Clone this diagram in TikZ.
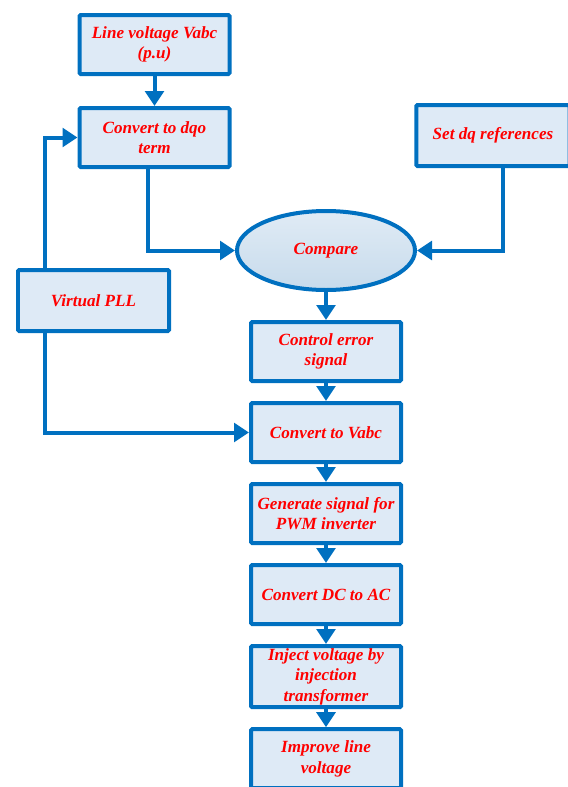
\documentclass[tikz,border=0pt]{standalone}
\usepackage{fontspec}
\setmainfont{Liberation Serif}
\usetikzlibrary{positioning,arrows.meta,shapes.geometric}
\definecolor{flowblue}{RGB}{0,112,192}
\definecolor{boxfill}{RGB}{222,234,246}
\definecolor{cmptop}{RGB}{224,235,245}
\definecolor{cmpbot}{RGB}{199,219,236}
\definecolor{flowred}{RGB}{255,0,0}
\newcommand\flowfont{\bfseries\itshape\fontsize{14.6}{17.5}\selectfont}
\tikzstyle{stepbox}=[rectangle, rounded corners=1pt, draw=flowblue, fill=boxfill, line width=0.12cm,
minimum width=4.5cm, minimum height=1.77cm, inner sep=2pt, align=center, text=flowred, font=\flowfont]
\tikzstyle{cmpbox}=[ellipse, draw=flowblue, top color=cmptop, bottom color=cmpbot, line width=0.12cm,
minimum width=5.34cm, minimum height=2.37cm, inner sep=0pt, align=center, text=flowred, font=\flowfont]
\tikzstyle{line}=[-, line width=0.12cm, draw=flowblue]
\tikzstyle{arrow}=[line, -{Triangle[length=0.45cm, width=0.56cm]}]

\begin{document}
\begin{tikzpicture}[node distance=0.54cm]
    \useasboundingbox (0,0) rectangle (17.04,-23.61);

    \node (lv) [stepbox] at (4.635,-1.335) {Line voltage Vabc\\(p.u)};
    \node (dqo) [stepbox, below=0.9cm of lv] {Convert to dqo\\term};
    \node (dqref) [stepbox, minimum width=4.6cm, minimum height=1.83cm] at (14.79,-4.065) {Set dq references};
    \node (cmp) [cmpbox] at (9.78,-7.515) {Compare};
    \node (pll) [stepbox, minimum width=4.53cm, minimum height=1.83cm] at (2.805,-9.015) {Virtual PLL};

% main chain
    \node (err) [stepbox, below=0.84cm of cmp] {Control error\\signal};
    \node (vabc) [stepbox, below=of err] {Convert to Vabc};
    \node (gen) [stepbox, below=of vabc] {Generate signal for\\PWM inverter};
    \node (dcac) [stepbox, below=of gen] {Convert DC to AC};
    \node (inj) [stepbox, below=of dcac] {Inject voltage by\\injection\\transformer};
    \node (imp) [stepbox, below=of inj] {Improve line\\voltage};

   \draw[arrow] (lv) -- (dqo);
   \draw[arrow] ([xshift=-1.45cm]pll.north) |- (dqo.west);
   \draw[arrow] ([xshift=-0.2cm]dqo.south) |- (cmp.west);
   \draw[arrow] ([xshift=0.3cm]dqref.south) |- (cmp.east);
   \draw[arrow] (cmp) -- (err);
   \draw[arrow] ([xshift=-1.45cm]pll.south) |- (vabc.west);

   \draw[arrow] (err) -- (vabc);
   \draw[arrow] (vabc) -- (gen);
   \draw[arrow] (gen) -- (dcac);
   \draw[arrow] (dcac) -- (inj);
   \draw[arrow] (inj) -- (imp);

\end{tikzpicture}
\end{document}
